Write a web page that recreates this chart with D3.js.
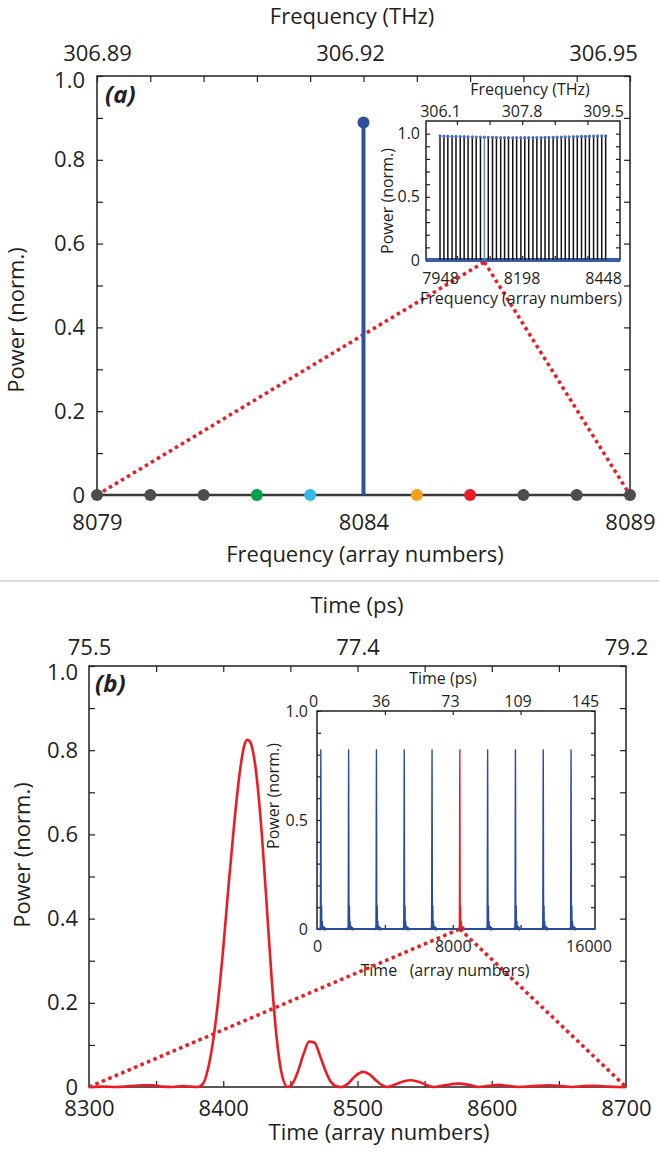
<!DOCTYPE html>
<html>
<head>
<meta charset="utf-8">
<script src="https://cdn.jsdelivr.net/npm/d3@7"></script>
<style>
  body { margin: 0; background: #fff; }
  svg text { font-family: "Open Sans", sans-serif; fill: #231f20; }
</style>
</head>
<body>
<script>
// ---- panel (a): frequency comb around 8084
const combIndex = [8079, 8080, 8081, 8082, 8083, 8084, 8085, 8086, 8087, 8088, 8089];
const combPower = [0, 0, 0, 0, 0, 0.889, 0, 0, 0, 0, 0];
const combColor = ['#4d4d4d', '#4d4d4d', '#4d4d4d', '#00a14b', '#35b8ec', '#2f4f9f',
                   '#f7a11a', '#ed1c24', '#4d4d4d', '#4d4d4d', '#4d4d4d'];
const aBottomTicks = [8079, 8084, 8089];
const aTopLabels = [306.89, 306.92, 306.95];
const mainYTicks = [0, 0.2, 0.4, 0.6, 0.8, 1.0];

// inset (a): whole comb
const insetCombIndex = [7948, 7960, 7972, 7985, 7997, 8010, 8022, 8034, 8047, 8059, 8072, 8084,
  8096, 8109, 8121, 8134, 8146, 8158, 8171, 8183, 8196, 8208, 8220, 8233, 8245, 8258, 8270,
  8282, 8295, 8307, 8320, 8332, 8344, 8357, 8369, 8382, 8394, 8406, 8419, 8431, 8444, 8456];
const insetCombPower = [0.982, 0.981, 0.980, 0.979, 0.978, 0.977, 0.976, 0.975, 0.974, 0.973,
  0.972, 0.972, 0.971, 0.970, 0.970, 0.969, 0.969, 0.968, 0.968, 0.968, 0.968, 0.968, 0.968,
  0.968, 0.969, 0.969, 0.970, 0.970, 0.971, 0.972, 0.973, 0.974, 0.975, 0.976, 0.977, 0.978,
  0.979, 0.980, 0.981, 0.982, 0.982, 0.983];
const insetABottomTicks = [7948, 8198, 8448];
const insetATopLabels = ['306.1', '307.8', '309.5'];

// ---- panel (b): one pulse in time
const timeIndex = [8300, 8310, 8320, 8330, 8340, 8347, 8355, 8362, 8370, 8376, 8381, 8385,
  8388, 8392, 8396, 8400, 8404, 8408, 8412, 8416, 8418, 8420, 8424, 8428, 8432, 8436, 8440,
  8444, 8448, 8452, 8456, 8460, 8464, 8468, 8472, 8476, 8480, 8484, 8488, 8493, 8498, 8504,
  8509, 8514, 8518, 8522, 8528, 8534, 8540, 8546, 8552, 8557, 8565, 8575, 8583, 8590, 8598,
  8605, 8612, 8620, 8630, 8643, 8652, 8660, 8668, 8677, 8686, 8694, 8700];
const timePower = [0, 0.001, 0, 0.002, 0.004, 0.004, 0.001, 0, 0.002, 0.001, 0, 0.008,
  0.035, 0.1, 0.2, 0.33, 0.48, 0.62, 0.74, 0.815, 0.825, 0.82, 0.76, 0.63, 0.45, 0.26, 0.11,
  0.025, 0, 0.01, 0.04, 0.08, 0.108, 0.105, 0.075, 0.04, 0.013, 0.002, 0, 0.008, 0.025, 0.036,
  0.03, 0.015, 0.005, 0, 0.006, 0.013, 0.016, 0.012, 0.004, 0, 0.004, 0.008, 0.005, 0, 0.003,
  0.005, 0.003, 0, 0.002, 0.004, 0.002, 0, 0.002, 0.003, 0.001, 0, 0];
const bBottomTicks = [8300, 8400, 8500, 8600, 8700];
const bTopTicks = [8300, 8500, 8700];
const bTopLabels = ['75.5', '77.4', '79.2'];

// inset (b): full pulse train
const pulseCenter = [226, 1864, 3503, 5141, 6780, 8418, 10056, 11695, 13333, 14972];
const insetBBottomTicks = [0, 8000, 16000];
const insetBTopLabels = [0, 36, 73, 109, 145];
const insetYTicks = [0, 0.5, 1.0];

const ink = '#231f20', blue = '#2f4f9f', red = '#ed1c24';
const FONT = '"Open Sans", sans-serif';

const svg = d3.select('body').append('svg').attr('width', 659).attr('height', 1153);

// inward ticks on all four sides + frame
function frame(g, x, y, xt, yt, len) {
  const [x0, x1] = x.range(), [y0, y1] = y.range();
  g.append('rect').attr('x', x0).attr('y', y1).attr('width', x1 - x0).attr('height', y0 - y1)
    .attr('fill', '#fff').attr('stroke', ink).attr('stroke-width', 1.5);
  const sides = [
    [d3.axisBottom(x).tickValues(xt), `translate(0,${y0})`],
    [d3.axisTop(x).tickValues(xt), `translate(0,${y1})`],
    [d3.axisLeft(y).tickValues(yt), `translate(${x0},0)`],
    [d3.axisRight(y).tickValues(yt), `translate(${x1},0)`]
  ];
  sides.forEach(([a, t]) => {
    const s = g.append('g').attr('transform', t)
      .call(a.tickSize(-len).tickSizeOuter(0).tickFormat(''));
    s.select('.domain').remove();
    s.selectAll('line').attr('stroke', ink).attr('stroke-width', 1.2);
  });
}

function labels(g, axis, t, size, pad) {
  const s = g.append('g').attr('transform', t).call(axis.tickSize(0).tickPadding(pad));
  s.select('.domain').remove();
  s.attr('font-size', size).attr('font-family', FONT);
  s.selectAll('text').attr('fill', ink);
  return s;
}

function title(txt, x, y, size, rot) {
  const t = svg.append('text').attr('font-size', size).attr('text-anchor', 'middle')
    .attr('xml:space', 'preserve').style('white-space', 'pre').text(txt);
  if (rot) t.attr('transform', `translate(${x},${y}) rotate(-90)`);
  else t.attr('x', x).attr('y', y);
  return t;
}

const dotted = (g, p1, p2) => g.append('line')
  .attr('x1', p1[0]).attr('y1', p1[1]).attr('x2', p2[0]).attr('y2', p2[1])
  .attr('stroke', red).attr('stroke-width', 3.5).attr('stroke-dasharray', '3.5 3.5');

const yFmt = d => d === 0 ? '0' : d3.format('.1f')(d);

// the top "1.0" label sits a bit below its tick in the figure
const nudgeTop = (s, dy) => s.selectAll('.tick').filter(d => d === 1)
  .select('text').attr('y', dy);

// ================= panel (a)
const xA = d3.scaleLinear().domain([8079, 8089]).range([97, 630]);
const yA = d3.scaleLinear().domain([0, 1]).range([495, 76]);
const thzA = d3.scaleLinear().domain([306.89, 306.95]).range([97, 603]);
const gA = svg.append('g');

frame(gA, xA, yA, combIndex, d3.range(0, 1.01, 0.1), 6);
labels(gA, d3.axisBottom(xA).tickValues(aBottomTicks).tickFormat(d3.format('d')), 'translate(0,495)', 22, 19);
labels(gA, d3.axisTop(thzA).tickValues(aTopLabels).tickFormat(d3.format('.2f')), 'translate(0,76)', 22, 15);
nudgeTop(labels(gA, d3.axisLeft(yA).tickValues(mainYTicks).tickFormat(yFmt), 'translate(97,0)', 22, 12), 4);

// inset (a)
const xIA = d3.scaleLinear().domain([7905, 8500]).range([426, 620]);
const yIA = d3.scaleLinear().domain([0, 1.1]).range([260, 121]);

// zoom guides
dotted(gA, [xA(8079), yA(0)], [xIA(8084), yIA(0) + 2]);
dotted(gA, [xIA(8084), yIA(0) + 2], [xA(8089), yA(0)]);

// baseline and stems
gA.append('line').attr('x1', xA(8079)).attr('x2', xA(8089)).attr('y1', yA(0)).attr('y2', yA(0))
  .attr('stroke', '#3a3a3a').attr('stroke-width', 2.5);
combIndex.forEach((f, i) => {
  if (combPower[i] > 0) {
    gA.append('line').attr('x1', xA(f)).attr('x2', xA(f)).attr('y1', yA(0)).attr('y2', yA(combPower[i]))
      .attr('stroke', combColor[i]).attr('stroke-width', 4);
  }
});
gA.selectAll('circle.comb').data(combIndex).join('circle').attr('class', 'comb')
  .attr('cx', d => xA(d)).attr('cy', (d, i) => yA(combPower[i])).attr('r', 6)
  .attr('fill', (d, i) => combColor[i]);

const gIA = svg.append('g');
frame(gIA, xIA, yIA, [8000, 8100, 8200, 8300, 8400], d3.range(0, 1.05, 0.1), 4);
gIA.append('line').attr('x1', xIA(7905)).attr('x2', xIA(8500)).attr('y1', yIA(0)).attr('y2', yIA(0))
  .attr('stroke', '#3a5ba8').attr('stroke-width', 4);
gIA.selectAll('line.stem').data(insetCombIndex).join('line').attr('class', 'stem')
  .attr('x1', d => xIA(d)).attr('x2', d => xIA(d))
  .attr('y1', yIA(0)).attr('y2', (d, i) => yIA(insetCombPower[i]))
  .attr('stroke', d => d === 8084 ? '#6a8ad0' : '#111').attr('stroke-width', 1.5);
gIA.selectAll('circle.top').data(insetCombIndex).join('circle').attr('class', 'top')
  .attr('cx', d => xIA(d)).attr('cy', (d, i) => yIA(insetCombPower[i])).attr('r', 1.6)
  .attr('fill', '#4a6cc0');
labels(gIA, d3.axisBottom(xIA).tickValues(insetABottomTicks).tickFormat(d3.format('d')), 'translate(0,260)', 16, 13);
labels(gIA, d3.axisTop(xIA).tickValues(insetABottomTicks).tickFormat((d, i) => insetATopLabels[i]), 'translate(0,121)', 16, 4);
labels(gIA, d3.axisLeft(yIA).tickValues(insetYTicks).tickFormat(yFmt), 'translate(426,0)', 16, 6);

// panel (a) texts
title('Frequency (THz)', 352, 24, 22);
title('Frequency (array numbers)', 365, 562, 22);
title('Power (norm.)', 24, 320, 22, true);
title('Frequency (THz)', 530, 95, 16);
title('Frequency (array numbers)', 521, 304, 16);
title('Power (norm.)', 393, 201, 16, true);
svg.append('text').attr('x', 105).attr('y', 103).attr('font-size', 24)
  .attr('font-weight', 'bold').attr('font-style', 'italic').text('(a)');

// separator
svg.append('line').attr('x1', 0).attr('x2', 659).attr('y1', 581).attr('y2', 581)
  .attr('stroke', '#cfcfcf').attr('stroke-width', 1.5);

// ================= panel (b)
const xB = d3.scaleLinear().domain([8300, 8700]).range([89, 626]);
const yB = d3.scaleLinear().domain([0, 1]).range([1087, 666]);
const gB = svg.append('g');
frame(gB, xB, yB, d3.range(8350, 8700, 50), d3.range(0, 1.01, 0.1), 6);
labels(gB, d3.axisBottom(xB).tickValues(bBottomTicks).tickFormat(d3.format('d')), 'translate(0,1087)', 22, 13);
labels(gB, d3.axisTop(xB).tickValues(bTopTicks).tickFormat((d, i) => bTopLabels[i]), 'translate(0,666)', 22, 11);
nudgeTop(labels(gB, d3.axisLeft(yB).tickValues(mainYTicks).tickFormat(yFmt), 'translate(89,0)', 22, 11), 6);

const pulse = timeIndex.map((t, i) => ({ t, p: timePower[i] }));
const lineB = d3.line().x(d => xB(d.t)).y(d => yB(d.p)).curve(d3.curveMonotoneX);

// inset (b)
const xIB = d3.scaleLinear().domain([0, 16384]).range([317, 595]);
const yIB = d3.scaleLinear().domain([0, 1]).range([929, 711]);
const psIB = d3.scaleLinear().domain([0, 145]).range([313, 585]);

dotted(gB, [xB(8300), yB(0)], [xIB(8418), yIB(0)]);
dotted(gB, [xIB(8418), yIB(0)], [xB(8700), yB(0)]);

gB.append('path').datum(pulse).attr('d', lineB).attr('fill', 'none')
  .attr('stroke', red).attr('stroke-width', 2.6);

const gIB = svg.append('g');
frame(gIB, xIB, yIB, [4000, 8000, 12000], d3.range(0, 1.01, 0.1), 4);
gIB.append('line').attr('x1', xIB(0)).attr('x2', xIB(16384)).attr('y1', yIB(0)).attr('y2', yIB(0))
  .attr('stroke', '#2b4b9b').attr('stroke-width', 2);
const lineIB = d3.line().x(d => xIB(d.t)).y(d => yIB(d.p));
gIB.selectAll('path.pulse').data(pulseCenter).join('path').attr('class', 'pulse')
  .attr('d', c => lineIB(pulse.map(d => ({ t: d.t - 8418 + c, p: d.p }))))
  .attr('fill', 'none').attr('stroke', c => c === 8418 ? red : '#2b4b9b').attr('stroke-width', 1.3);
labels(gIB, d3.axisBottom(xIB).tickValues(insetBBottomTicks).tickFormat(d3.format('d')), 'translate(0,929)', 16, 12);
labels(gIB, d3.axisTop(psIB).tickValues(insetBTopLabels).tickFormat(d3.format('d')), 'translate(0,711)', 16, 4);
labels(gIB, d3.axisLeft(yIB).tickValues(insetYTicks).tickFormat(yFmt), 'translate(317,0)', 16, 9);

// panel (b) texts
title('Time (ps)', 357, 613, 22);
title('Time (array numbers)', 379, 1140, 22);
title('Power (norm.)', 30, 855, 22, true);
title('Time (ps)', 443, 684, 16);
title('Time   (array numbers)', 445, 976, 16);
title('Power (norm.)', 279, 796, 16, true);
svg.append('text').attr('x', 95).attr('y', 692).attr('font-size', 24)
  .attr('font-weight', 'bold').attr('font-style', 'italic').text('(b)');
</script>
</body>
</html>
